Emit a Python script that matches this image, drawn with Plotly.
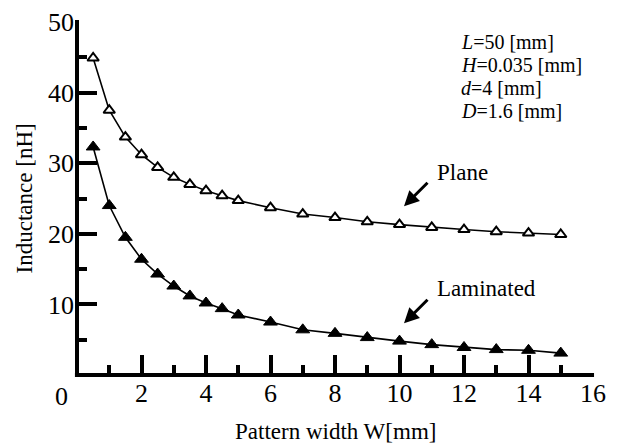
import plotly.graph_objects as go

# Data
width_mm = [0.5, 1, 1.5, 2, 2.5, 3, 3.5, 4, 4.5, 5, 6, 7, 8, 9, 10, 11, 12, 13, 14, 15]
plane_nH = [44.9, 37.5, 33.7, 31.2, 29.4, 28.0, 27.0, 26.1, 25.4, 24.7,
            23.7, 22.8, 22.3, 21.7, 21.3, 20.9, 20.6, 20.3, 20.1, 19.9]
laminated_nH = [32.3, 24.0, 19.5, 16.4, 14.3, 12.6, 11.2, 10.2, 9.4, 8.5,
                7.5, 6.4, 5.9, 5.3, 4.8, 4.3, 3.9, 3.6, 3.5, 3.1]

x_tickvals = [0, 2, 4, 6, 8, 10, 12, 14, 16]
x_ticktext = ["", "2", "4", "6", "8", "10", "12", "14", "16"]
y_tickvals = [10, 20, 30, 40, 50]
y_ticktext = ["10", "20", "30", "40", "50"]

params = ["<i>L</i>=50 [mm]", "<i>H</i>=0.035 [mm]", "<i>d</i>=4 [mm]", "<i>D</i>=1.6 [mm]"]
x_title = "Pattern width W[mm]"
y_title = "Inductance [nH]"

FONT = "Liberation Serif, Times New Roman, serif"

fig = go.Figure()
fig.add_trace(go.Scatter(
    x=width_mm, y=plane_nH, mode="lines+markers", name="Plane",
    line=dict(color="black", width=1.6),
    marker=dict(symbol="triangle-up", size=10, color="white",
                line=dict(color="black", width=2)),
))
fig.add_trace(go.Scatter(
    x=width_mm, y=laminated_nH, mode="lines+markers", name="Laminated",
    line=dict(color="black", width=1.6),
    marker=dict(symbol="triangle-up", size=12, color="black",
                line=dict(color="black", width=1)),
))

annotations = []
for i, t in enumerate(params):
    annotations.append(dict(x=11.85, y=47.1 - 3.24 * i, xref="x", yref="y", text=t,
                            showarrow=False, xanchor="left", yanchor="middle",
                            font=dict(family=FONT, size=20, color="black")))
annotations.append(dict(x=11.1, y=28.7, xref="x", yref="y", text="Plane", showarrow=False,
                        xanchor="left", yanchor="middle",
                        font=dict(family=FONT, size=23, color="black")))
annotations.append(dict(x=11.1, y=12.2, xref="x", yref="y", text="Laminated", showarrow=False,
                        xanchor="left", yanchor="middle",
                        font=dict(family=FONT, size=23, color="black")))
for hy in [23.9, 7.33]:
    annotations.append(dict(x=10.14, y=hy, xref="x", yref="y", text="",
                            showarrow=True, ax=25, ay=-25, arrowhead=2,
                            arrowsize=1.0, arrowwidth=3, arrowcolor="black"))
annotations.append(dict(x=0, y=0, xref="x", yref="y", text="0", showarrow=False,
                        xanchor="center", yanchor="middle", xshift=-16, yshift=-21,
                        font=dict(family=FONT, size=26, color="black")))
# axis titles
annotations.append(dict(x=0.501, y=-0.161, xref="paper", yref="paper", text=x_title,
                        showarrow=False, xanchor="center", yanchor="middle",
                        font=dict(family=FONT, size=23, color="black")))
annotations.append(dict(x=-0.101, y=0.5, xref="paper", yref="paper", text=y_title,
                        showarrow=False, xanchor="center", yanchor="middle", textangle=-90,
                        font=dict(family=FONT, size=23, color="black")))

shapes = [
    dict(type="line", xref="paper", yref="paper", x0=-0.004, x1=1.002, y0=0, y1=0,
         line=dict(color="black", width=4), layer="above"),
    dict(type="line", xref="paper", yref="paper", x0=0, x1=0, y0=-0.006, y1=1.006,
         line=dict(color="black", width=4), layer="above"),
]

fig.update_layout(
    width=618, height=446,
    margin=dict(l=77, r=25, t=22, b=71),
    paper_bgcolor="white", plot_bgcolor="white",
    showlegend=False,
    font=dict(family=FONT, color="black"),
    annotations=annotations,
    shapes=shapes,
)
fig.update_xaxes(
    range=[0, 16], tickmode="array", tickvals=x_tickvals, ticktext=x_ticktext,
    ticks="inside", ticklen=20, tickwidth=4, tickcolor="black",
    minor=dict(tickmode="linear", tick0=0, dtick=1, ticks="inside", ticklen=10,
               tickwidth=4, tickcolor="black"),
    showline=False, showgrid=False, zeroline=False, automargin=False,
    tickfont=dict(family=FONT, size=26, color="black"),
)
fig.update_yaxes(
    range=[0, 50], tickmode="array", tickvals=y_tickvals, ticktext=y_ticktext,
    ticks="inside", ticklen=20, tickwidth=4, tickcolor="black",
    minor=dict(tickmode="linear", tick0=0, dtick=5, ticks="inside", ticklen=10,
               tickwidth=4, tickcolor="black"),
    showline=False, showgrid=False, zeroline=False, automargin=False,
    ticklabelstandoff=2,
    tickfont=dict(family=FONT, size=26, color="black"),
)

fig.write_html("out.html")
